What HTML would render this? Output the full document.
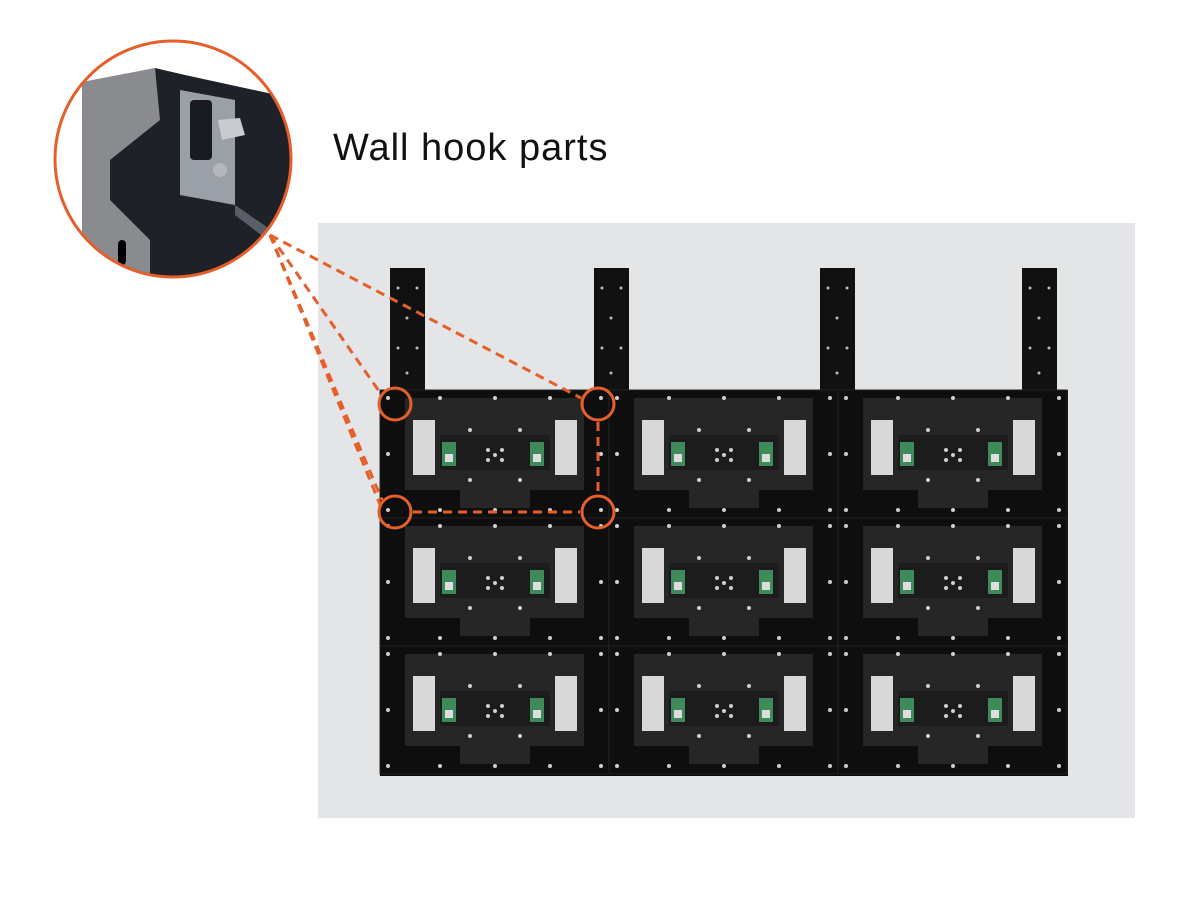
<!DOCTYPE html>
<html><head><style>
html,body{margin:0;padding:0;background:#fff;}
svg{display:block;}
</style></head><body>
<svg width="1200" height="901" viewBox="0 0 1200 901" xmlns="http://www.w3.org/2000/svg">
<defs>
<g id="cab">
  <rect x="0" y="0" width="229" height="128" fill="#0e0e0e" stroke="#222" stroke-width="1"/>
  <path d="M25 8 H204 V100 H150 V118 H80 V100 H25 Z" fill="#262626"/>
  <path d="M60 45 H170 V80 H60 Z" fill="#1c1c1c"/>
  <rect x="33" y="30" width="22" height="55" fill="#d8d8d8"/>
  <rect x="175" y="30" width="22" height="55" fill="#d8d8d8"/>
  <rect x="62" y="52" width="14" height="24" fill="#3f8a5a"/>
  <rect x="150" y="52" width="14" height="24" fill="#3f8a5a"/>
  <rect x="65" y="64" width="8" height="8" fill="#ddd"/>
  <rect x="153" y="64" width="8" height="8" fill="#ddd"/>
  <g fill="#cfcfcf">
    <circle cx="8" cy="8" r="2"/><circle cx="60" cy="8" r="2"/><circle cx="115" cy="8" r="2"/><circle cx="170" cy="8" r="2"/><circle cx="221" cy="8" r="2"/>
    <circle cx="8" cy="120" r="2"/><circle cx="60" cy="120" r="2"/><circle cx="115" cy="120" r="2"/><circle cx="170" cy="120" r="2"/><circle cx="221" cy="120" r="2"/>
    <circle cx="8" cy="64" r="2"/><circle cx="221" cy="64" r="2"/>
    <circle cx="108" cy="60" r="2"/><circle cx="122" cy="60" r="2"/><circle cx="108" cy="70" r="2"/><circle cx="122" cy="70" r="2"/><circle cx="115" cy="65" r="2"/>
    <circle cx="90" cy="40" r="2"/><circle cx="140" cy="40" r="2"/><circle cx="90" cy="90" r="2"/><circle cx="140" cy="90" r="2"/>
  </g>
</g>
<g id="hang">
  <rect x="0" y="0" width="35" height="130" fill="#111"/>
  <g fill="#bbb"><circle cx="8" cy="20" r="1.5"/><circle cx="27" cy="20" r="1.5"/><circle cx="17" cy="50" r="1.5"/><circle cx="8" cy="80" r="1.5"/><circle cx="27" cy="80" r="1.5"/><circle cx="17" cy="105" r="1.5"/></g>
</g>
</defs>
<rect x="318" y="223" width="817" height="595" fill="#e4e5e7"/>
<use href="#hang" x="390" y="268"/>
<use href="#hang" x="594" y="268"/>
<use href="#hang" x="820" y="268"/>
<use href="#hang" x="1022" y="268"/>
<rect x="380" y="390" width="688" height="386" fill="#0a0a0a"/>
<use href="#cab" x="380" y="390"/><use href="#cab" x="609" y="390"/><use href="#cab" x="838" y="390"/>
<use href="#cab" x="380" y="518"/><use href="#cab" x="609" y="518"/><use href="#cab" x="838" y="518"/>
<use href="#cab" x="380" y="646"/><use href="#cab" x="609" y="646"/><use href="#cab" x="838" y="646"/>
<clipPath id="cc"><circle cx="173" cy="159" r="118"/></clipPath>
<g clip-path="url(#cc)">
  <rect x="50" y="35" width="250" height="250" fill="#fff"/>
  <path d="M85 85 L155 68 L185 75 L300 100 L300 285 L90 285 Z" fill="#1f2128"/>
  <path d="M82 82 L155 68 L160 120 L110 160 L110 200 L150 240 L150 285 L82 285 Z" fill="#8a8b8e"/>
  <path d="M180 90 L235 100 L235 205 L180 195 Z" fill="#9aa0a8"/>
  <rect x="190" y="100" width="22" height="60" rx="4" fill="#1a1b20"/>
  <path d="M218 120 L240 118 L245 135 L222 140 Z" fill="#c9cbcf"/>
  <circle cx="220" cy="170" r="7" fill="#b4b7bc"/>
  <path d="M235 205 L300 250 L300 265 L235 215 Z" fill="#5a5e68"/>
  <rect x="118" y="240" width="8" height="25" rx="4" fill="#000"/>
</g>
<circle cx="173" cy="159" r="118" fill="none" stroke="#e55f2a" stroke-width="3"/>
<text x="333" y="160" font-family="Liberation Sans, sans-serif" font-size="38" letter-spacing="1" fill="#111">Wall hook parts</text>
<g stroke="#e55f2a" stroke-width="3" fill="none" stroke-dasharray="9,6">
  <line x1="270" y1="235" x2="581" y2="398"/>
  <line x1="270" y1="235" x2="381" y2="394"/>
  <line x1="270" y1="235" x2="382" y2="500"/>
  <line x1="270" y1="235" x2="381" y2="507"/>
  <line x1="598" y1="422" x2="598" y2="494"/>
  <line x1="413" y1="512" x2="580" y2="512"/>
</g>
<g stroke="#e55f2a" stroke-width="3" fill="none">
  <circle cx="395" cy="404" r="16"/><circle cx="598" cy="404" r="16"/>
  <circle cx="395" cy="512" r="16"/><circle cx="598" cy="512" r="16"/>
</g>
</svg>
</body></html>
